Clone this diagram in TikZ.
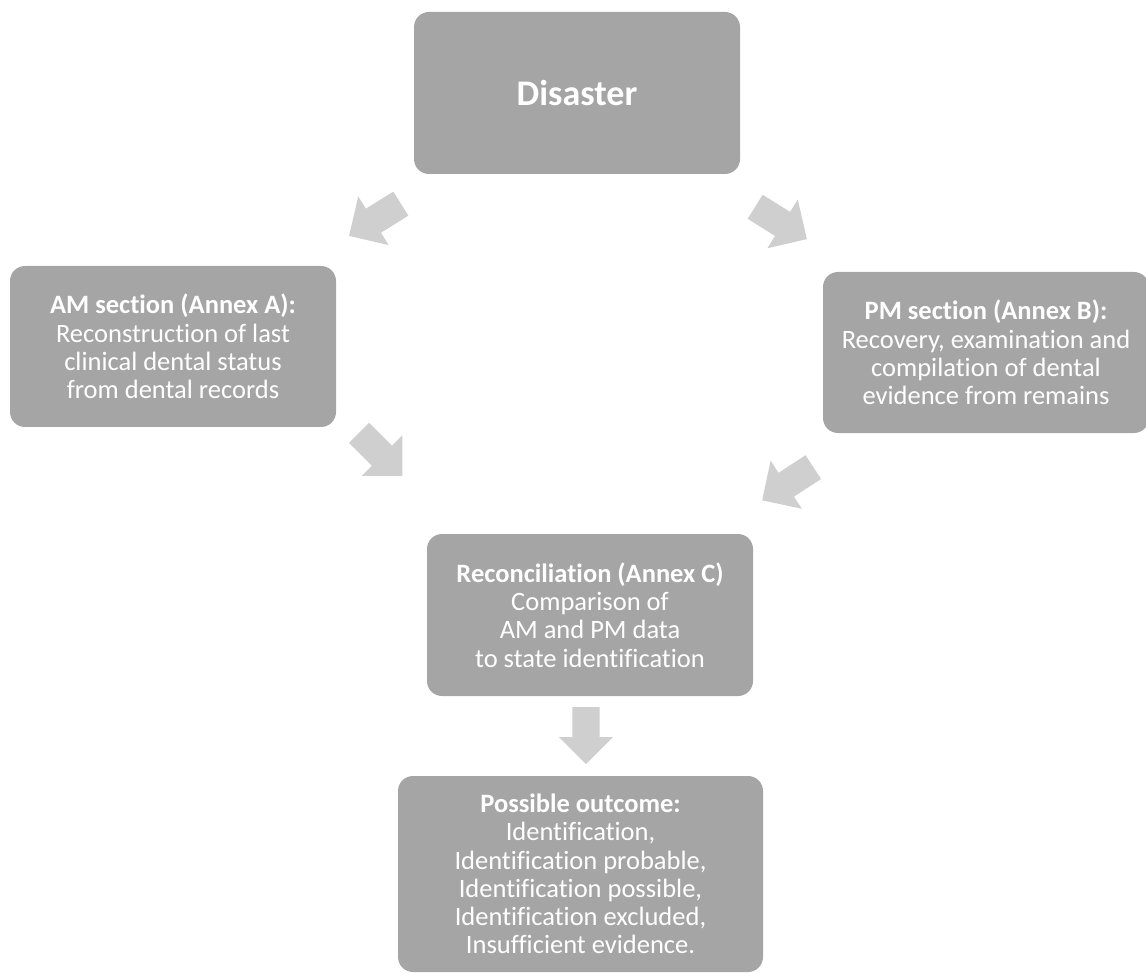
\documentclass[tikz,border=0pt]{standalone}
\usepackage{fontspec}
\setmainfont{Carlito}[Ligatures=NoCommon]
\usepackage{tikz}
\usetikzlibrary{arrows.meta,positioning,shapes.arrows}
\definecolor{boxgray}{RGB}{165,165,165}
\definecolor{arrowgray}{RGB}{207,207,207}

\begin{document}
\begin{tikzpicture}[x=1pt,y=-1pt,
  box/.style={fill=boxgray,rounded corners=15pt,text=white,align=center,
    inner sep=0pt,font=\fontsize{26.5}{28.2}\selectfont},
  blockarrow/.style={single arrow,fill=arrowgray,inner xsep=0pt,inner ysep=14pt,
    single arrow head extend=14.5pt,single arrow tip angle=90,minimum height=61pt,anchor=tail}]
\useasboundingbox (0,0) rectangle (1146,973);
% ---------- boxes ----------
\node[box,minimum width=326pt,minimum height=162pt,font=\fontsize{36}{40}\selectfont\bfseries]
  (disaster) at (577,93) {Disaster};
\node[box,minimum width=326pt,minimum height=161pt] (amsec) at (173,346.5)
  {\textbf{AM section (Annex A):}\\Reconstruction of last\\clinical dental status\\from dental records};
\node[box,minimum width=326pt,minimum height=161pt] (pmsec) at (986,352.5)
  {\textbf{PM section (Annex B):}\\Recovery, examination and\\compilation of dental\\evidence from remains};
\node[box,minimum width=326pt,minimum height=162pt] (recon) at (590,615)
  {\textbf{Reconciliation (Annex C)}\\Comparison of\\AM and PM data\\to state identification};
\node[box,minimum width=365pt,minimum height=196pt] (outcome) at (580.5,874)
  {\textbf{Possible outcome:}\\Identification,\\Identification probable,\\Identification possible,\\Identification excluded,\\Insufficient evidence.};
% ---------- block arrows (placed by their tails) ----------
\node[blockarrow,rotate=212] (toam) at (401,203.5) {};
\node[blockarrow,rotate=-32] (topm) at (755,206.7) {};
\node[blockarrow,rotate=-45] (amrec) at (359,432.7) {};
\node[blockarrow,rotate=213] (pmrec) at (813.5,467) {};
\node[blockarrow,rotate=-90,inner ysep=13.5pt,single arrow head extend=13.5pt,minimum height=57pt]
  (recout) at (586,707) {};
\end{tikzpicture}
\end{document}
